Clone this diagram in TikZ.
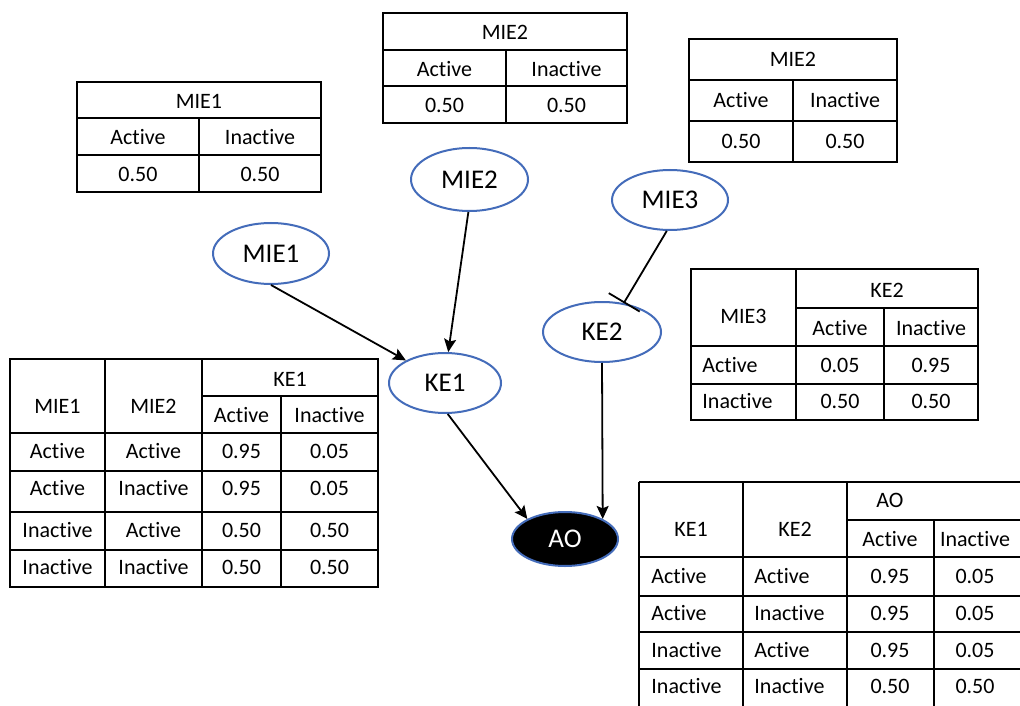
\documentclass[tikz,border=0pt]{standalone}
\usepackage{fontspec}
\setmainfont{Carlito}[Ligatures={NoCommon}]
\usetikzlibrary{shapes.geometric,arrows.meta}
\definecolor{evblue}{RGB}{68,108,186}
\tikzset{
  ev/.style={ellipse, draw=evblue, line width=1pt, fill=white, inner sep=0pt,
    font=\fontsize{13.5}{15}\selectfont},
  tl/.style={line width=0.8pt, black},
  tx/.style={font=\fontsize{11}{12}\selectfont, inner sep=0pt, text height=7.1pt, text depth=0pt},
  txl/.style={tx, anchor=west},
  conn/.style={line width=0.9pt, -{Stealth[length=6.5pt,width=6pt,inset=1.2pt]}},
  inhib/.style={line width=0.9pt, -{Bar[width=18pt,line width=0.9pt]}}
}
\begin{document}
\begin{tikzpicture}[x=0.5pt,y=-0.5pt]
\useasboundingbox (0,0) rectangle (1020,705);
\fill[white] (0,0) rectangle (1020,705);
\clip (0,0) rectangle (1020,705);

% ---------- MIE1 prior table ----------
\draw[tl] (77,82) rectangle (321,192);
\draw[tl] (77,118) -- (321,118) (77,155) -- (321,155) (199,118) -- (199,192);
\node[tx] (t1h) at (199,101) {MIE1};
\node[tx] (t1a) at (138,137.5) {Active};
\node[tx] (t1i) at (260,137.5) {Inactive};
\node[tx] (t1p) at (138,174) {0.50};
\node[tx] (t1q) at (260,174) {0.50};

% ---------- MIE2 prior table (top) ----------
\draw[tl] (383,13) rectangle (627,123);
\draw[tl] (383,50) -- (627,50) (383,86) -- (627,86) (506,50) -- (506,123);
\node[tx] (t2h) at (505,32) {MIE2};
\node[tx] (t2a) at (444.5,69) {Active};
\node[tx] (t2i) at (566.5,69) {Inactive};
\node[tx] (t2p) at (444.5,105) {0.50};
\node[tx] (t2q) at (566.5,105) {0.50};

% ---------- MIE2 prior table (right) ----------
\draw[tl] (689,39) rectangle (897,162);
\draw[tl] (689,80) -- (897,80) (689,121) -- (897,121) (793,80) -- (793,162);
\node[tx] (t3h) at (793,59.5) {MIE2};
\node[tx] (t3a) at (741,100) {Active};
\node[tx] (t3i) at (845,100) {Inactive};
\node[tx] (t3p) at (741,141) {0.50};
\node[tx] (t3q) at (845,141) {0.50};

% ---------- KE2 CPT ----------
\draw[tl] (691,269) rectangle (978,420);
\draw[tl] (796,269) -- (796,420) (884,308) -- (884,420)
          (796,308) -- (978,308) (691,346) -- (978,346) (691,384) -- (978,384);
\node[tx] (t4m) at (743.5,316.5) {MIE3};
\node[tx] (t4h) at (887,290) {KE2};
\node[tx] (t4a) at (840,328) {Active};
\node[tx] (t4i) at (931,328) {Inactive};
\node[txl] (t4r1) at (702,365) {Active};
\node[tx] (t4r1a) at (840,365) {0.05};
\node[tx] (t4r1b) at (931,365) {0.95};
\node[txl] (t4r2) at (702,401) {Inactive};
\node[tx] (t4r2a) at (840,401) {0.50};
\node[tx] (t4r2b) at (931,401) {0.50};

% ---------- KE1 CPT ----------
\draw[tl] (10,359) rectangle (378,587);
\draw[tl] (105,359) -- (105,587) (202,359) -- (202,587) (281,396) -- (281,587)
          (202,396) -- (378,396) (10,433) -- (378,433) (10,471) -- (378,471)
          (10,512) -- (378,512) (10,550) -- (378,550);
\node[tx] (t5m1) at (57.5,406) {MIE1};
\node[tx] (t5m2) at (153.5,406) {MIE2};
\node[tx] (t5h) at (290,379) {KE1};
\node[tx] (t5a) at (241.5,415) {Active};
\node[tx] (t5i) at (329.5,415) {Inactive};
\node[tx] (t5r1a) at (57.5,451.5) {Active};
\node[tx] (t5r1b) at (153.5,451.5) {Active};
\node[tx] (t5r1c) at (241.5,451.5) {0.95};
\node[tx] (t5r1d) at (329.5,451.5) {0.05};
\node[tx] (t5r2a) at (57.5,488.5) {Active};
\node[tx] (t5r2b) at (153.5,488.5) {Inactive};
\node[tx] (t5r2c) at (241.5,488.5) {0.95};
\node[tx] (t5r2d) at (329.5,488.5) {0.05};
\node[tx] (t5r3a) at (57.5,530.5) {Inactive};
\node[tx] (t5r3b) at (153.5,530.5) {Active};
\node[tx] (t5r3c) at (241.5,530.5) {0.50};
\node[tx] (t5r3d) at (329.5,530.5) {0.50};
\node[tx] (t5r4a) at (57.5,567.5) {Inactive};
\node[tx] (t5r4b) at (153.5,567.5) {Inactive};
\node[tx] (t5r4c) at (241.5,567.5) {0.50};
\node[tx] (t5r4d) at (329.5,567.5) {0.50};

% ---------- AO CPT (cut by the picture edge) ----------
\draw[tl] (639,482) -- (1030,482) (639,482) -- (639,715);
\draw[tl] (743,482) -- (743,715) (847,482) -- (847,715) (934,520) -- (934,715)
          (847,520) -- (1030,520) (639,557) -- (1030,557) (639,596) -- (1030,596)
          (639,632) -- (1030,632) (639,669) -- (1030,669);
\node[tx] (t6k1) at (691,529) {KE1};
\node[tx] (t6k2) at (795,529) {KE2};
\node[tx] (t6h) at (890,500) {AO};
\node[tx] (t6a) at (890,539.5) {Active};
\node[tx] (t6i) at (975,539.5) {Inactive};
\node[txl] (t6r1a) at (651,576.5) {Active};
\node[txl] (t6r1b) at (754,576.5) {Active};
\node[tx] (t6r1c) at (890,576.5) {0.95};
\node[tx] (t6r1d) at (975,576.5) {0.05};
\node[txl] (t6r2a) at (651,613.5) {Active};
\node[txl] (t6r2b) at (754,613.5) {Inactive};
\node[tx] (t6r2c) at (890,613.5) {0.95};
\node[tx] (t6r2d) at (975,613.5) {0.05};
\node[txl] (t6r3a) at (651,650) {Inactive};
\node[txl] (t6r3b) at (754,650) {Active};
\node[tx] (t6r3c) at (890,650) {0.95};
\node[tx] (t6r3d) at (975,650) {0.05};
\node[txl] (t6r4a) at (651,686.5) {Inactive};
\node[txl] (t6r4b) at (754,686.5) {Inactive};
\node[tx] (t6r4c) at (890,686.5) {0.50};
\node[tx] (t6r4d) at (975,686.5) {0.50};

% ---------- network nodes ----------
\node[ev, minimum width=58pt, minimum height=30.5pt] (MIE1) at (271,253.5) {MIE1};
\node[ev, minimum width=58.5pt, minimum height=31.5pt] (MIE2) at (469.5,179.5) {MIE2};
\node[ev, minimum width=58pt, minimum height=30pt] (MIE3) at (670,200) {MIE3};
\node[ev, minimum width=56pt, minimum height=30pt] (KE1) at (445,383) {KE1};
\node[ev, minimum width=59pt, minimum height=30pt] (KE2) at (602,332) {KE2};
\node[ev, fill=black, text=white, minimum width=53pt, minimum height=27pt] (AO) at (565,539) {AO};

% ---------- connectors ----------
\draw[conn] (MIE1.south) -- (KE1.150);
\draw[conn] (MIE2.268) -- (KE1.84);
\draw[conn] (KE1.275) -- (AO.152);
\draw[conn] (KE2.south) -- (AO.28);
\draw[inhib] (MIE3.264) -- (KE2.53);
\end{tikzpicture}
\end{document}
